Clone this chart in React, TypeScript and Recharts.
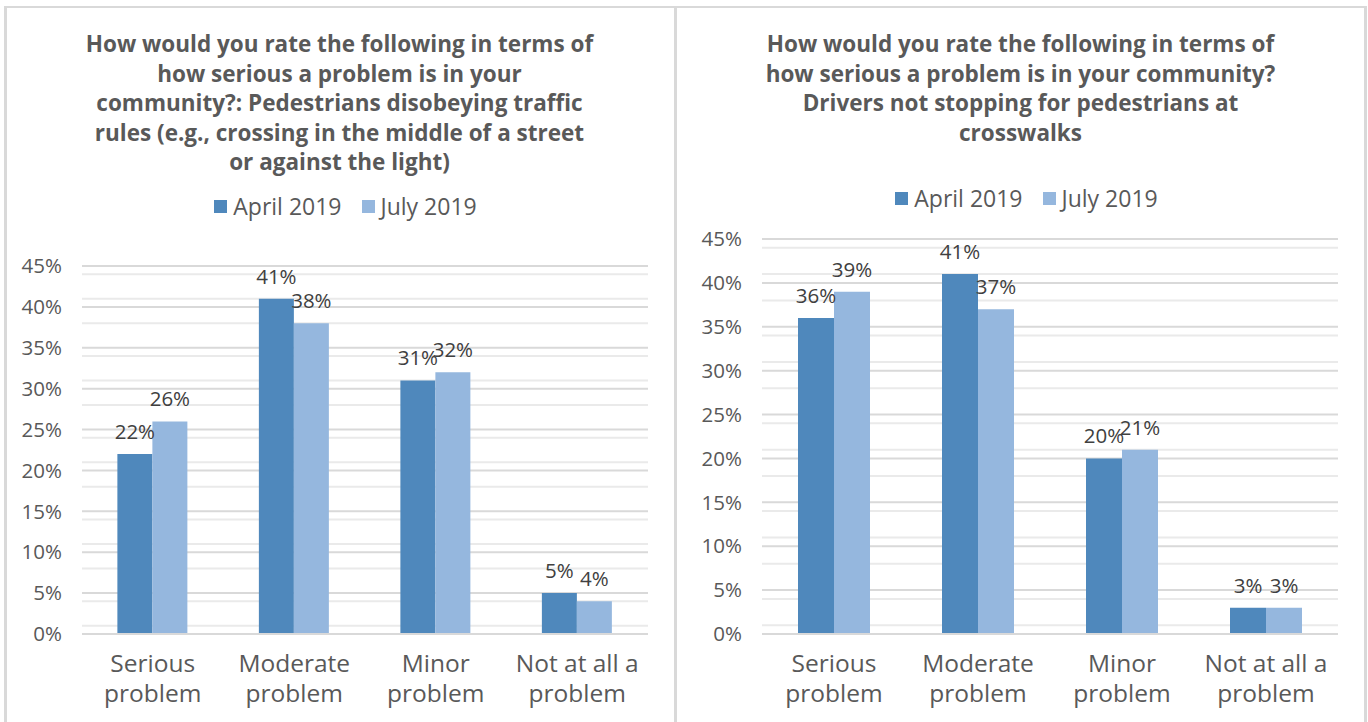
import React from 'react';
import { BarChart, Bar, XAxis, YAxis, CartesianGrid, Legend, LabelList } from 'recharts';

const categories = ['Serious problem', 'Moderate problem', 'Minor problem', 'Not at all a problem'];
const categoryLines = [
  ['Serious', 'problem'],
  ['Moderate', 'problem'],
  ['Minor', 'problem'],
  ['Not at all a', 'problem'],
];
const seriesNames = ['April 2019', 'July 2019'];

const pedestrianApril = [22, 41, 31, 5];
const pedestrianJuly = [26, 38, 32, 4];
const driverApril = [36, 41, 20, 3];
const driverJuly = [39, 37, 21, 3];

const yTicks = [0, 5, 10, 15, 20, 25, 30, 35, 40, 45];
const minorTicks = [
  1, 2, 3, 4, 6, 7, 8, 9, 11, 12, 13, 14, 16, 17, 18, 19, 21, 22, 23, 24,
  26, 27, 28, 29, 31, 32, 33, 34, 36, 37, 38, 39, 41, 42, 43, 44,
];

const pedestrianTitle = [
  'How would you rate the following in terms of',
  'how serious a problem is in your',
  'community?: Pedestrians disobeying traffic',
  'rules (e.g., crossing in the middle of a street',
  'or against the light)',
];
const driverTitle = [
  'How would you rate the following in terms of',
  'how serious a problem is in your community?',
  'Drivers not stopping for pedestrians at',
  'crosswalks',
];

const APRIL = '#4F88BC';
const JULY = '#95B7DE';
const TEXT = '#595959';
const FONT = '"Open Sans", sans-serif';

function buildRows(april: number[], july: number[]) {
  return categories.map((c, i) => ({ category: c, april: april[i], july: july[i] }));
}

const CategoryTick = (props: any) => {
  const { x, y, payload } = props;
  const lines = categoryLines[categories.indexOf(payload.value)] || [payload.value];
  return (
    <text x={x} y={y} textAnchor="middle" fill={TEXT} fontSize={24.5} fontFamily={FONT}>
      {lines.map((l, i) => (
        <tspan key={i} x={x} dy={30}>
          {l}
        </tspan>
      ))}
    </text>
  );
};

const LegendContent = () => (
  <div
    style={{
      display: 'flex',
      justifyContent: 'center',
      gap: 20,
      paddingLeft: 12,
      fontFamily: FONT,
      fontSize: 23,
      color: TEXT,
      lineHeight: '26px',
    }}
  >
    {seriesNames.map((n, i) => (
      <div key={n} style={{ display: 'flex', alignItems: 'center', gap: 6 }}>
        <span style={{ width: 13, height: 13, background: i === 0 ? APRIL : JULY, display: 'inline-block' }} />
        <span>{n}</span>
      </div>
    ))}
  </div>
);

type PanelProps = {
  left: number;
  width: number;
  title: string[];
  april: number[];
  july: number[];
  marginLeft: number;
  marginRight: number;
  marginTop: number;
  legendTop: number;
};

function Panel({ left, width, title, april, july, marginLeft, marginRight, marginTop, legendTop }: PanelProps) {
  const rows = buildRows(april, july);
  const labelStyle = { fill: '#404040', fontSize: 20.5, fontFamily: FONT };
  return (
    <div style={{ position: 'absolute', left, top: 0, width, height: 722 }}>
      <div
        style={{
          position: 'absolute',
          left: 0,
          top: 29,
          width,
          textAlign: 'center',
          fontFamily: FONT,
          fontWeight: 700,
          fontSize: 22.5,
          lineHeight: '29.5px',
          color: TEXT,
        }}
      >
        {title.map((t) => (
          <div key={t}>{t}</div>
        ))}
      </div>
      <div style={{ position: 'absolute', left: 0, top: 0 }}>
        <BarChart
          width={width}
          height={722}
          data={rows}
          margin={{ top: marginTop, right: marginRight, bottom: 0, left: marginLeft }}
          barCategoryGap="25%"
          barGap={0}
        >
          <CartesianGrid vertical={false} horizontalValues={minorTicks} stroke="#EAEAEA" strokeWidth={2} />
          <CartesianGrid vertical={false} stroke="#D9D9D9" strokeWidth={2} />
          <XAxis
            dataKey="category"
            tick={<CategoryTick />}
            tickLine={false}
            axisLine={{ stroke: '#D9D9D9', strokeWidth: 2 }}
            interval={0}
            height={88}
          />
          <YAxis
            domain={[0, 45]}
            ticks={yTicks}
            tickFormatter={(v) => `${v}%`}
            tick={{ fill: TEXT, fontSize: 20.5, fontFamily: FONT }}
            tickLine={false}
            axisLine={false}
            tickMargin={14}
            width={60}
          />
          <Legend
            verticalAlign="middle"
            align="center"
            content={<LegendContent />}
            wrapperStyle={{ top: legendTop, left: 0, width }}
          />
          <Bar dataKey="april" name={seriesNames[0]} fill={APRIL} isAnimationActive={false}>
            <LabelList dataKey="april" position="top" offset={15} formatter={(v: any) => `${v}%`} style={labelStyle} />
          </Bar>
          <Bar dataKey="july" name={seriesNames[1]} fill={JULY} isAnimationActive={false}>
            <LabelList dataKey="july" position="top" offset={15} formatter={(v: any) => `${v}%`} style={labelStyle} />
          </Bar>
        </BarChart>
      </div>
    </div>
  );
}

export default function App() {
  return (
    <div style={{ position: 'absolute', left: 0, top: 0, width: 1368, height: 722, background: '#fff', overflow: 'hidden' }}>
      <div
        style={{
          position: 'absolute',
          left: 4,
          top: 6,
          width: 667,
          height: 740,
          borderTop: '2px solid #D9D9D9',
          borderLeft: '3px solid #D9D9D9',
          borderRight: '3px solid #D9D9D9',
        }}
      />
      <div
        style={{
          position: 'absolute',
          left: 677,
          top: 6,
          width: 687,
          height: 740,
          borderTop: '2px solid #D9D9D9',
          borderRight: '3px solid #D9D9D9',
        }}
      />
      <Panel
        left={4}
        width={671}
        title={pedestrianTitle}
        april={pedestrianApril}
        july={pedestrianJuly}
        marginLeft={18}
        marginRight={27}
        marginTop={266}
        legendTop={193}
      />
      <Panel
        left={675}
        width={691}
        title={driverTitle}
        april={driverApril}
        july={driverJuly}
        marginLeft={27}
        marginRight={28}
        marginTop={239}
        legendTop={185}
      />
    </div>
  );
}
